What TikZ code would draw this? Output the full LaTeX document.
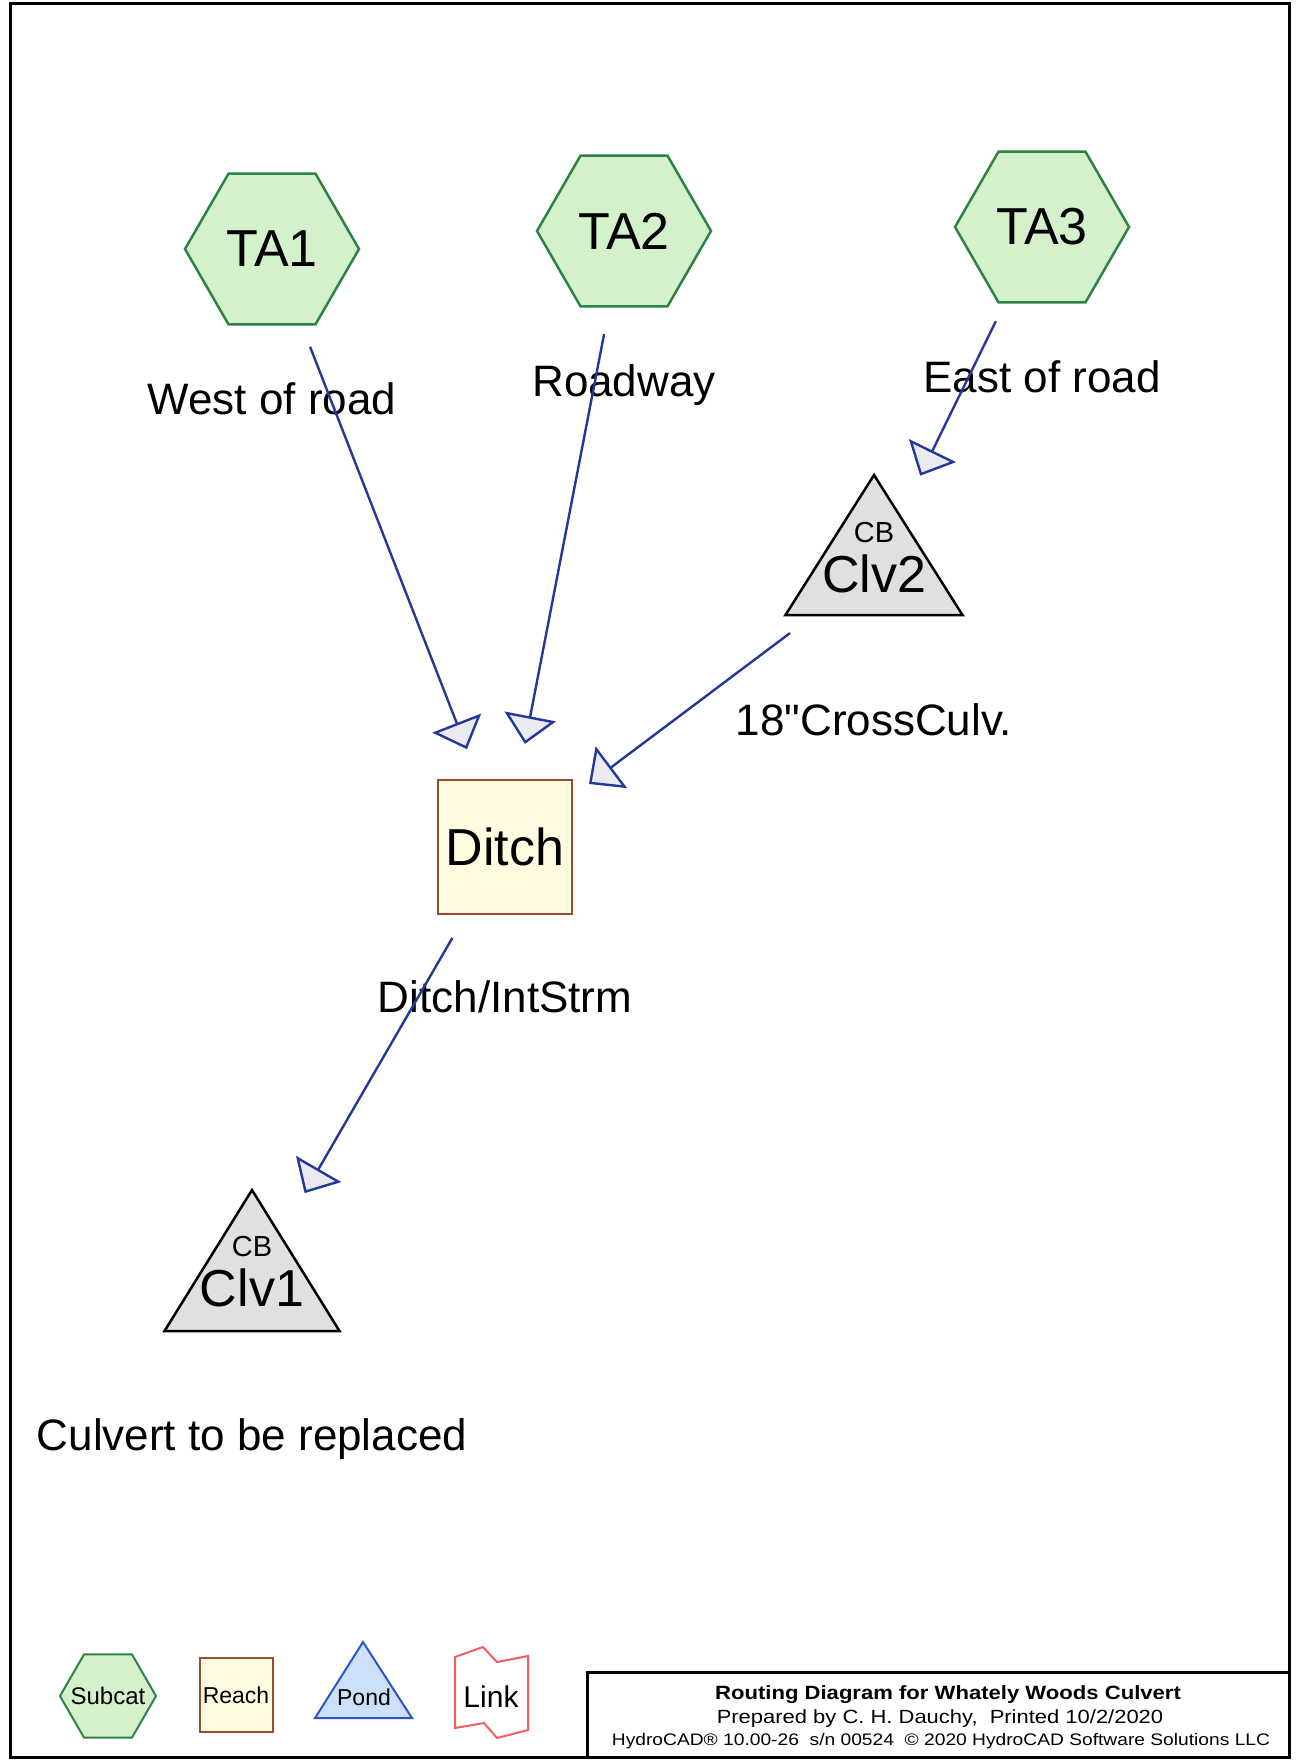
\documentclass[tikz,border=0pt]{standalone}
\usepackage{fontspec}
\setmainfont{Liberation Sans}[Ligatures=TeXOff]
\newfontfamily\blockfont[FakeStretch=1.15]{Liberation Sans}
\usetikzlibrary{shapes.geometric,arrows.meta,calc}

\definecolor{subcatfill}{RGB}{213,241,204}
\definecolor{subcatline}{RGB}{45,130,70}
\definecolor{reachfill}{RGB}{255,251,224}
\definecolor{reachline}{RGB}{155,74,46}
\definecolor{pondgray}{RGB}{224,224,224}
\definecolor{pondblue}{RGB}{204,224,250}
\definecolor{pondline}{RGB}{42,86,198}
\definecolor{routeblue}{RGB}{35,57,154}
\definecolor{tipfill}{RGB}{234,234,240}
\definecolor{linkred}{RGB}{240,96,96}

\begin{document}
\begin{tikzpicture}[x=1pt,y=-1pt,
        subcat/.style={regular polygon,regular polygon sides=6,minimum size=174pt,inner sep=0pt,
            draw=subcatline,fill=subcatfill,line width=2.5pt,font=\fontsize{52}{56}\selectfont},
        reach/.style={rectangle,minimum size=134pt,inner sep=0pt,draw=reachline,fill=reachfill,
            line width=2.5pt,font=\fontsize{52}{56}\selectfont},
        pond/.style={draw=black,fill=pondgray,line width=2.5pt,line join=miter},
        cbtag/.style={anchor=base,inner sep=0pt,font=\fontsize{29}{32}\selectfont},
        pondname/.style={anchor=base,inner sep=0pt,font=\fontsize{52}{56}\selectfont},
        caption/.style={anchor=base,inner sep=0pt,font=\fontsize{44}{48}\selectfont},
        route/.style={draw=routeblue,line width=2.4pt,
            -{Triangle[length=28pt,width=52pt,fill=tipfill]},
            shorten <=105pt,shorten >=105pt},
        legend/.style={inner sep=0pt,line width=2pt}]

    \useasboundingbox (0,0) rectangle (1295,1760);

    % page frame and title block
    \draw[line width=3pt] (10,4) rectangle (1289,1757);
    \draw[line width=3pt] (587,1672) rectangle (1289,1757);

    % subcatchments
    \node[subcat] (TA1) at (272,249) {TA1};
    \node[subcat] (TA2) at (624,231) {TA2};
    \node[subcat] (TA3) at (1042,227) {TA3};
    \node[caption] (TA1cap) at ($(TA1)+(0,165)$) {West of road};
    \node[caption] (TA2cap) at ($(TA2)+(0,165)$) {Roadway};
    \node[caption] (TA3cap) at ($(TA3)+(0,165)$) {East of road};

    % reach
    \node[reach] (Ditch) at (505,847) {Ditch};
    \node[caption] (Ditchcap) at ($(Ditch)+(0,165)$) {Ditch/IntStrm};

    % ponds
    \coordinate (Clv2) at (874,570);
    \draw[pond] (Clv2) ++(0,-95) -- ++(88.5,140) -- ++(-177,0) -- cycle;
    \node[cbtag] (Clv2cb) at ($(Clv2)+(0,-28)$) {CB};
    \node[pondname] (Clv2name) at ($(Clv2)+(0,22)$) {Clv2};
    \node[caption] (Clv2cap) at ($(Clv2)+(0,165)$) {18"CrossCulv.};

    \coordinate (Clv1) at (252,1284);
    \draw[pond] (Clv1) ++(0,-94) -- ++(87.5,141) -- ++(-175,0) -- cycle;
    \node[cbtag] (Clv1cb) at ($(Clv1)+(0,-28)$) {CB};
    \node[pondname] (Clv1name) at ($(Clv1)+(0,22)$) {Clv1};
    \node[caption] (Clv1cap) at ($(Clv1)+(0,166)$) {Culvert to be replaced};

    % routing
    \draw[route] (TA1.center) -- (Ditch.center);
    \draw[route] (TA2.center) -- (Ditch.center);
    \draw[route] (TA3.center) -- (Clv2);
    \draw[route] (Clv2) -- (Ditch.center);
    \draw[route] (Ditch.center) -- (Clv1);

    % legend
    \node[legend,subcat,minimum size=96pt,line width=2pt,font=\fontsize{24}{26}\selectfont]
        (lgSubcat) at (108,1696) {\makebox[0pt]{Subcat}};
    \node[legend,reach,minimum width=73pt,minimum height=74pt,line width=2pt,
        font=\fontsize{23}{25}\selectfont] (lgReach) at (236,1695) {\makebox[0pt]{Reach}};
    \draw[legend,draw=pondline,fill=pondblue,line join=miter]
        (363,1642) -- (412,1718) -- (315,1718) -- cycle;
    \node[legend,font=\fontsize{23}{25}\selectfont] (lgPond) at (364,1697) {Pond};
    \draw[legend,draw=linkred,fill=white]
        (455,1657) -- (483,1647) -- (497,1662) -- (528,1656) -- (528,1730)
        -- (497,1738) -- (484,1723) -- (455,1728) -- cycle;
    \node[legend,font=\fontsize{30}{32}\selectfont] (lgLink) at (491,1697) {Link};

    % title block text
    \node[anchor=base,inner sep=0pt,font=\blockfont\bfseries\fontsize{19.2}{21}\selectfont]
        (ttl) at (948,1699) {Routing Diagram for Whately Woods Culvert};
    \node[anchor=base,inner sep=0pt,font=\blockfont\fontsize{19.1}{21}\selectfont]
        (prep) at (940,1723) {Prepared by C. H. Dauchy,\ \ Printed 10/2/2020};
    \node[anchor=base,inner sep=0pt,font=\blockfont\fontsize{16.7}{18}\selectfont]
        (soft) at (941,1745) {HydroCAD® 10.00-26\ \ s/n 00524\ \ © 2020 HydroCAD Software Solutions LLC};
\end{tikzpicture}
\end{document}
